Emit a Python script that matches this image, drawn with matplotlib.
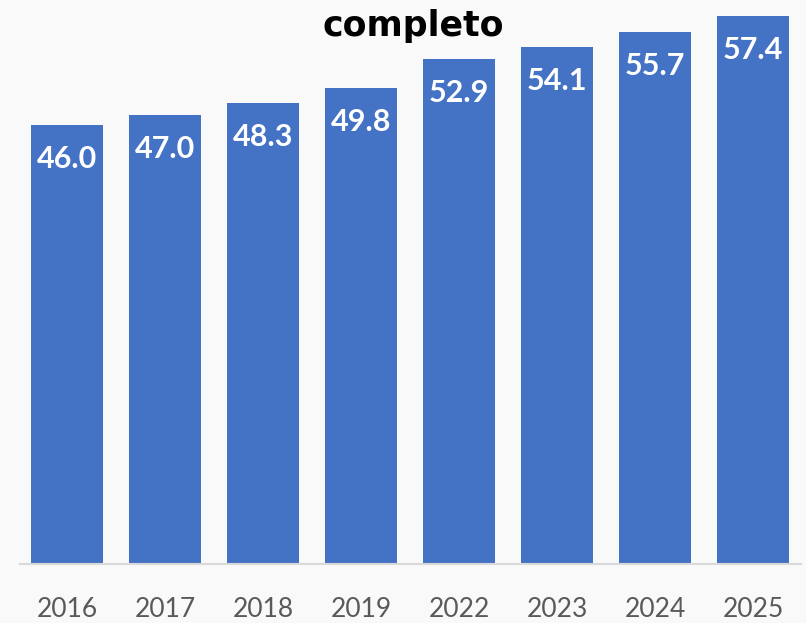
import matplotlib
matplotlib.use("Agg")
import matplotlib.pyplot as plt

years = ["2016", "2017", "2018", "2019", "2022", "2023", "2024", "2025"]
values = [46.0, 47.0, 48.3, 49.8, 52.9, 54.1, 55.7, 57.4]
title = "completo"

W, H = 806, 623
fig = plt.figure(figsize=(W / 100, H / 100), dpi=100)
bg = "#f9f9f9"
fig.patch.set_facecolor(bg)
ax = fig.add_axes([20 / W, (H - 564) / H, 781 / W, 564 / H])
ax.set_facecolor(bg)

x = list(range(len(years)))
bars = ax.bar(x, values, width=0.735, color="#4472C4", zorder=2)
ax.set_xlim(-0.48, 7.49)
ax.set_ylim(0, 59.06)

for xi, v in zip(x, values):
    ax.annotate(f"{v:.1f}", xy=(xi, v), xytext=(0, -34), textcoords="offset pixels",
                ha="center", va="center", color="white", fontsize=22,
                fontweight="bold", family="Lato")

for s in ["left", "right", "top"]:
    ax.spines[s].set_visible(False)
ax.spines["bottom"].set_color("#d9d9d9")
ax.spines["bottom"].set_linewidth(1.5)
ax.set_yticks([])
ax.set_xticks(x)
ax.set_xticklabels(years, fontsize=19, color="#595959", family="Lato")
ax.tick_params(axis="x", length=0, pad=24)

fig.text(413 / W, (H - 36) / H, title, ha="center", va="baseline",
         fontsize=25, fontweight="bold", family="DejaVu Sans", color="black")

fig.savefig("out.png", dpi=100, facecolor=bg)
